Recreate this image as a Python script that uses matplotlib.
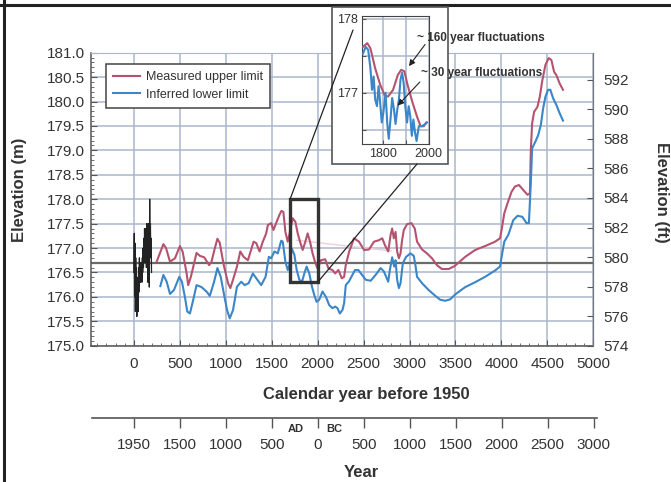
import matplotlib
matplotlib.use('Agg')
import matplotlib.pyplot as plt
from matplotlib import font_manager
from matplotlib.patches import Rectangle, ConnectionPatch
from matplotlib.lines import Line2D
from matplotlib.ticker import MultipleLocator, FormatStrFormatter
import numpy as np

# ---------------- data ----------------
upper_years = [250, 321, 350, 393, 447, 501, 530, 574, 591, 620, 682, 718, 765, 819, 845, 880, 909, 934,
               978, 1025, 1050, 1079, 1122, 1158, 1194, 1241, 1303, 1332, 1368, 1403, 1440, 1458, 1494,
               1519, 1548, 1584, 1606, 1627, 1649, 1674, 1692, 1728, 1757, 1783, 1808, 1837, 1866, 1891,
               1917, 1945, 1974, 1999, 2036, 2082, 2118, 2161, 2191, 2226, 2263, 2288, 2306, 2342, 2396,
               2450, 2505, 2559, 2613, 2667, 2703, 2732, 2768, 2794, 2811, 2829, 2848, 2865, 2884, 2902,
               2919, 2938, 2974, 3021, 3057, 3082, 3136, 3190, 3244, 3298, 3352, 3425, 3490, 3606, 3714,
               3822, 3931, 3985, 4002, 4031, 4067, 4110, 4147, 4191, 4237, 4284, 4310, 4320, 4334, 4356,
               4392, 4418, 4443, 4479, 4515, 4544, 4573, 4598, 4634, 4670]
upper_m = [176.73, 177.08, 177.00, 176.72, 176.79, 177.04, 176.93, 176.48, 176.24, 176.41, 176.90, 176.84,
           176.81, 176.65, 176.72, 176.99, 177.19, 177.11, 176.65, 176.28, 176.18, 176.35, 176.62, 176.93,
           176.82, 176.75, 177.13, 177.10, 176.93, 177.13, 177.30, 177.47, 177.51, 177.37, 177.51, 177.68,
           177.76, 177.74, 177.33, 177.13, 177.27, 177.61, 177.54, 177.30, 177.13, 176.96, 177.13, 177.30,
           177.13, 176.89, 176.70, 176.58, 176.75, 176.77, 176.58, 176.55, 176.48, 176.55, 176.38, 176.41,
           176.65, 176.92, 177.20, 177.13, 176.96, 176.97, 177.13, 177.16, 177.20, 177.06, 176.93, 177.27,
           177.40, 177.20, 177.33, 176.93, 176.79, 176.89, 177.16, 177.37, 177.49, 177.51, 177.40, 177.13,
           176.97, 176.89, 176.79, 176.65, 176.57, 176.57, 176.63, 176.82, 176.96, 177.04, 177.13, 177.20,
           177.37, 177.71, 177.92, 178.15, 178.26, 178.29, 178.19, 178.09, 178.12, 179.00, 179.55, 179.79,
           179.89, 180.10, 180.41, 180.75, 180.89, 180.85, 180.61, 180.54, 180.37, 180.24]

lower_years = [288, 321, 357, 393, 436, 494, 523, 555, 581, 610, 646, 682, 736, 790, 826, 873, 909, 945,
               989, 1014, 1043, 1079, 1122, 1169, 1205, 1249, 1295, 1332, 1386, 1433, 1469, 1494, 1530,
               1566, 1603, 1620, 1649, 1674, 1692, 1718, 1747, 1772, 1801, 1830, 1855, 1880, 1909, 1938,
               1963, 1988, 2017, 2053, 2090, 2126, 2161, 2191, 2215, 2241, 2270, 2288, 2306, 2342, 2378,
               2407, 2443, 2523, 2577, 2631, 2685, 2721, 2746, 2768, 2786, 2811, 2833, 2848, 2865, 2884,
               2902, 2927, 2963, 3010, 3046, 3064, 3082, 3136, 3208, 3281, 3335, 3389, 3443, 3497, 3606,
               3714, 3822, 3931, 3985, 4002, 4031, 4075, 4129, 4176, 4227, 4273, 4299, 4320, 4334, 4370,
               4400, 4429, 4454, 4479, 4508, 4533, 4562, 4598, 4634, 4670]
lower_m = [176.22, 176.45, 176.31, 176.06, 176.14, 176.41, 176.31, 176.00, 175.70, 175.66, 175.94, 176.24,
           176.20, 176.11, 176.02, 176.31, 176.59, 176.41, 175.97, 175.73, 175.56, 175.73, 176.21, 176.31,
           176.24, 176.28, 176.48, 176.38, 176.24, 176.41, 176.82, 176.79, 176.93, 176.89, 177.15, 177.13,
           176.72, 176.55, 176.65, 176.99, 176.86, 176.55, 176.35, 176.31, 176.48, 176.62, 176.48, 176.21,
           176.04, 175.90, 175.94, 176.11, 176.00, 175.83, 175.77, 175.80, 175.77, 175.66, 175.73, 175.87,
           176.24, 176.32, 176.45, 176.55, 176.55, 176.35, 176.33, 176.45, 176.59, 176.52, 176.41, 176.31,
           176.55, 176.81, 176.62, 176.75, 176.35, 176.18, 176.28, 176.69, 176.82, 176.89, 176.84, 176.65,
           176.41, 176.28, 176.14, 176.02, 175.94, 175.92, 175.95, 176.05, 176.20, 176.30, 176.41, 176.54,
           176.62, 176.82, 177.13, 177.27, 177.57, 177.66, 177.64, 177.51, 177.51, 178.33, 179.04, 179.18,
           179.31, 179.52, 179.86, 180.10, 180.24, 180.24, 180.07, 179.93, 179.76, 179.61]

hist_years = [0, 4, 8, 12, 16, 20, 24, 28, 32, 36, 40, 44, 48, 52, 56, 60, 64, 68, 72, 76, 80, 84, 88,
              92, 96, 100, 104, 108, 112, 116, 120, 124, 128, 132, 136, 140, 144, 148, 152, 156, 160,
              164, 168, 172, 176, 180, 184, 188, 192]
hist_m = [176.5, 177.3, 176.0, 177.1, 175.7, 176.8, 175.9, 176.6, 175.6, 176.4, 175.8, 176.3, 175.7,
          176.6, 176.1, 176.8, 176.3, 176.7, 176.3, 176.6, 176.4, 176.7, 176.3, 176.8, 176.5, 177.0,
          176.6, 177.2, 176.7, 177.4, 176.8, 177.3, 176.7, 177.4, 176.6, 177.5, 176.9, 177.3, 176.3,
          177.5, 176.7, 177.4, 176.2, 178.0, 176.9, 177.5, 176.8, 177.2, 176.5]

inset_upper_years = [1710, 1729, 1743, 1764, 1786, 1807, 1821, 1843, 1864, 1879, 1893, 1907, 1929, 1950,
                     1965, 1979, 1990]
inset_upper_m = [177.62, 177.67, 177.60, 177.33, 177.11, 176.96, 176.95, 177.04, 177.24, 177.31, 177.29,
                 177.11, 176.87, 176.67, 176.55, 176.55, 176.60]
inset_lower_years = [1710, 1722, 1733, 1743, 1750, 1757, 1764, 1772, 1779, 1786, 1793, 1800, 1810, 1817,
                     1824, 1833, 1839, 1847, 1854, 1862, 1869, 1876, 1883, 1890, 1897, 1905, 1912, 1919,
                     1926, 1933, 1940, 1947, 1957, 1971, 1986, 1993]
inset_lower_m = [177.53, 177.62, 177.58, 177.33, 177.04, 177.22, 176.91, 176.82, 177.09, 176.87, 176.60,
                 176.73, 177.00, 176.60, 176.38, 176.69, 176.93, 176.78, 176.58, 176.78, 176.91, 177.18,
                 177.27, 177.13, 176.82, 176.60, 176.82, 176.69, 176.42, 176.64, 176.47, 176.35, 176.55,
                 176.55, 176.58, 176.60]

reference_level = 176.7
x_ticks = [0, 500, 1000, 1500, 2000, 2500, 3000, 3500, 4000, 4500, 5000]
ft_ticks = [574, 576, 578, 580, 582, 584, 586, 588, 590, 592]
year_labels = ['1950', '1500', '1000', '500', '0', '500', '1000', '1500', '2000', '2500', '3000']
series_labels = ['Measured upper limit', 'Inferred lower limit']

# ---------------- style ----------------
names = {f.name for f in font_manager.fontManager.ttflist}
BASE = 'Liberation Sans' if 'Liberation Sans' in names else 'DejaVu Sans'
plt.rcParams['font.family'] = [BASE, 'DejaVu Sans']

RED = '#b5536f'
BLUE = '#3a86c8'
GRID = '#a9b6cd'
TXT = '#333333'
SPINE = '#555555'

W, H = 671, 482
fig = plt.figure(figsize=(W / 100, H / 100), dpi=100)
fig.patch.set_facecolor('white')


def fx(px):
    return px / W


def fy(py):
    return 1 - py / H


# ---------------- main axes ----------------
L, R, T, B = 90.7, 593.3, 52.7, 345.7
ax = fig.add_axes([fx(L), fy(B), (R - L) / W, (B - T) / H])
ax.set_xlim(-470, 5000)
ax.set_ylim(175, 181)
ax.set_xticks(x_ticks)
ax.set_xticklabels([str(v) for v in x_ticks])
ax.xaxis.set_minor_locator(MultipleLocator(100))
ax.yaxis.set_major_locator(MultipleLocator(0.5))
ax.yaxis.set_minor_locator(MultipleLocator(0.1))
ax.yaxis.set_major_formatter(FormatStrFormatter('%.1f'))
ax.grid(True, which='major', color=GRID, lw=1.1, zorder=0)
ax.set_axisbelow(True)
ax.tick_params(which='both', direction='in', colors=SPINE, labelcolor=TXT, labelsize=11)
ax.tick_params(which='major', length=4)
ax.tick_params(which='minor', length=2.5)
ax.tick_params(axis='x', pad=8)
ax.tick_params(axis='y', pad=4)
for s in ['left', 'bottom']:
    ax.spines[s].set_color(SPINE)
    ax.spines[s].set_linewidth(1.1)
ax.spines['top'].set_color(GRID)
ax.spines['right'].set_color('#777777')

ax.axhline(reference_level, color='#6b6b6b', lw=1.6, zorder=2)
ax.plot([1770, 2800], [177.16, 176.94], color='#ecd0d9', lw=1.0, zorder=2)
l1, = ax.plot(upper_years, upper_m, color=RED, lw=1.5, zorder=3, label=series_labels[0])
l2, = ax.plot(lower_years, lower_m, color=BLUE, lw=1.5, zorder=3, label=series_labels[1])
ax.plot(hist_years, hist_m, color='#222222', lw=0.9, zorder=3)
ax.add_patch(Rectangle((1700, 176.3), 300, 1.7, fill=False, ec='#333333', lw=2.4, zorder=6))

leg = ax.legend(handles=[l1, l2], loc='upper left', bbox_to_anchor=((105.7 - L) / (R - L), (B - 64.3) / (B - T)),
                borderaxespad=0, fontsize=9, handlelength=2.2, handletextpad=0.45, labelspacing=0.45,
                borderpad=0.55, fancybox=False, framealpha=1, edgecolor='#444444')
leg.get_frame().set_linewidth(1.1)
for t in leg.get_texts():
    t.set_color(TXT)

# right axis in feet
axr = ax.twinx()
axr.set_ylim(175 * 3.28084, 181 * 3.28084)
axr.set_yticks(ft_ticks)
axr.set_yticklabels([str(v) for v in ft_ticks])
axr.tick_params(direction='in', length=4, colors=SPINE, labelcolor=TXT, labelsize=11, pad=7)
for s in ['left', 'bottom', 'top']:
    axr.spines[s].set_visible(False)
axr.spines['right'].set_color('#777777')

fig.text(fx(20), fy(190), 'Elevation (m)', rotation=90, ha='center', va='center',
         fontsize=12, fontweight='bold', color=TXT)
fig.text(fx(662), fy(192), 'Elevation (ft)', rotation=270, ha='center', va='center',
         fontsize=12, fontweight='bold', color=TXT)
fig.text(fx(365.9), fy(395), 'Calendar year before 1950', ha='center', va='center',
         fontsize=12, fontweight='bold', color=TXT)

# ---------------- bottom calendar axis ----------------
axb = fig.add_axes([fx(92), fy(418.3), (597 - 92) / W, 0.0001])
axb.set_xlim(-456, 5038)
axb.set_ylim(0, 1)
axb.set_xticks(x_ticks)
axb.set_xticklabels(year_labels)
axb.set_yticks([])
for s in ['left', 'right', 'top']:
    axb.spines[s].set_visible(False)
axb.spines['bottom'].set_color(SPINE)
axb.spines['bottom'].set_linewidth(1.2)
axb.patch.set_alpha(0)
axb.tick_params(axis='x', direction='out', length=7.5, width=1, colors=SPINE, labelcolor=TXT,
                labelsize=11, pad=7)
fig.text(fx(295.3), fy(429), 'AD', ha='center', va='center', fontsize=8, fontweight='bold', color=TXT)
fig.text(fx(333.8), fy(429), 'BC', ha='center', va='center', fontsize=8, fontweight='bold', color=TXT)
fig.text(fx(361.6), fy(472.5), 'Year', ha='center', va='center', fontsize=12, fontweight='bold', color=TXT)

# ---------------- inset ----------------
fig.patches.append(Rectangle((fx(332), fy(164)), (448.3 - 332) / W, (164 - 7.3) / H,
                             transform=fig.transFigure, fc='white', ec='#555555', lw=1.2, zorder=4))
axi = fig.add_axes([fx(362.3), fy(144), (429 - 362.3) / W, (144 - 15.7) / H], zorder=5)
axi.set_xlim(1707, 2002)
axi.set_ylim(176.31, 178.04)
axi.set_xticks([1800, 1900, 2000])
axi.set_xticklabels(['1800', '', '2000'])
axi.set_yticks([176.5, 177.0, 177.5, 178.0])
axi.set_yticklabels(['', '177', '', '178'])
axi.grid(True, color=GRID, lw=1.1)
axi.set_axisbelow(True)
axi.tick_params(direction='in', length=3, colors=SPINE, labelcolor=TXT, labelsize=9, pad=3)
for s in axi.spines.values():
    s.set_color('#444444')
axi.plot(inset_upper_years, inset_upper_m, color=RED, lw=1.5, zorder=3)
axi.plot(inset_lower_years, inset_lower_m, color=BLUE, lw=1.5, zorder=3)

axi.annotate('', xy=(1906, 177.33), xycoords='data', xytext=(fx(426.7), fy(42.3)),
             textcoords='figure fraction', annotation_clip=False,
             arrowprops=dict(arrowstyle='-|>', color='#222222', lw=0.8, mutation_scale=9))
axi.annotate('', xy=(1855, 176.8), xycoords='data', xytext=(fx(421.7), fy(80)),
             textcoords='figure fraction', annotation_clip=False,
             arrowprops=dict(arrowstyle='-|>', color='#222222', lw=0.8, mutation_scale=9))
fig.text(fx(417), fy(37.7), '~ 160 year fluctuations', ha='left', va='center', fontsize=8.5,
         fontweight='bold', color=TXT, zorder=7)
fig.text(fx(420.7), fy(73.3), '~ 30 year fluctuations', ha='left', va='center', fontsize=8.5,
         fontweight='bold', color=TXT, zorder=7)

# connector lines from the box to the inset
c1 = ConnectionPatch(xyA=(1700, 178.0), coordsA=ax.transData, xyB=(fx(353), fy(30)),
                     coordsB=fig.transFigure, color='#222222', lw=0.9, zorder=8)
c2 = ConnectionPatch(xyA=(2000, 176.3), coordsA=ax.transData, xyB=(fx(417), fy(164)),
                     coordsB=fig.transFigure, color='#222222', lw=0.9, zorder=8)
fig.add_artist(c1)
fig.add_artist(c2)

# figure border
fig.add_artist(Line2D([0, 1], [fy(5), fy(5)], transform=fig.transFigure, color='#222222', lw=2.2))
fig.add_artist(Line2D([fx(4), fx(4)], [0, 1], transform=fig.transFigure, color='#222222', lw=2.2))

fig.savefig('out.png', dpi=100)
